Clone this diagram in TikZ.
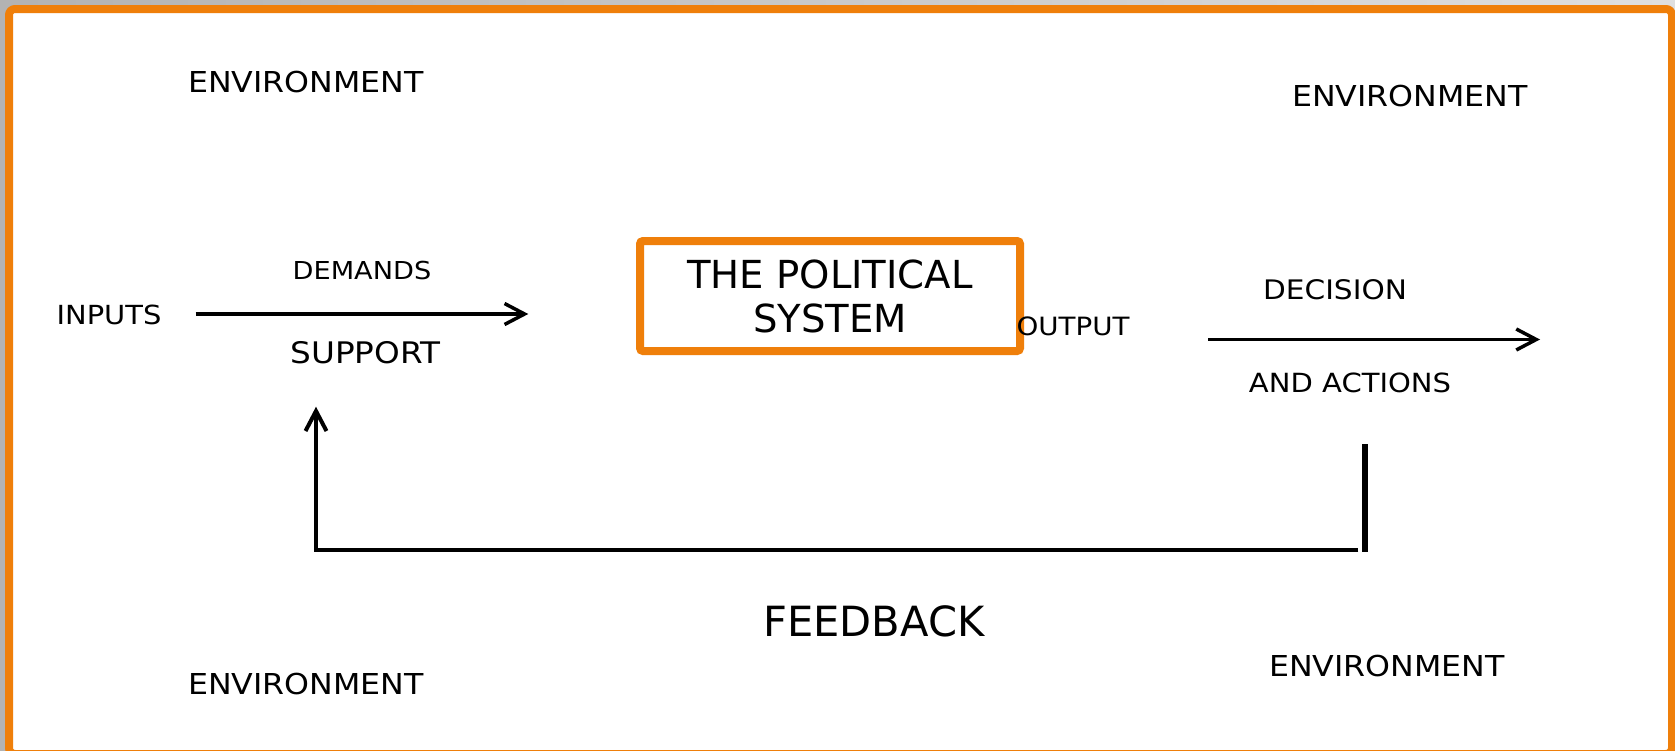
\documentclass[tikz,border=0pt]{standalone}
\usepackage{fontspec}
\usetikzlibrary{arrows.meta}
\newfontfamily\wideface[FakeStretch=1.1]{DejaVu Sans}
\newfontfamily\plainface{DejaVu Sans}
\definecolor{frameorange}{RGB}{239,127,10}

\begin{document}
\begin{tikzpicture}[x=1pt,y=-1pt,
  lbl/.style={anchor=base, inner sep=0pt, text=black},
  envlabel/.style={lbl, font=\wideface\fontsize{28.8pt}{34pt}\selectfont},
  smalllabel/.style={lbl, font=\wideface\fontsize{#1pt}{30pt}\selectfont},
  barb/.style={-{Straight Barb[length=20pt,width=21pt,line width=#1]}},
  flow/.style={line width=3.5pt, barb=3.5pt},
  systembox/.style={draw=frameorange, line width=8pt, rounded corners=3pt,
    minimum width=380pt, minimum height=110pt, inner sep=0pt, align=center,
    font=\plainface\fontsize{38.6pt}{44pt}\selectfont}
]
\useasboundingbox (0,0) rectangle (1675,750);
\clip (0,0) rectangle (1675,750);

% slide backdrop and orange frame
\shade[left color=gray!60, right color=gray!25] (0,0) rectangle (1675,750);
\draw[frameorange, line width=8pt, fill=white, rounded corners=6pt] (9,9) rectangle (1672,754);

% environment labels in the four corners
\node[envlabel] (envTL) at (306,92.3) {ENVIRONMENT};
\node[envlabel] (envTR) at (1410,106) {ENVIRONMENT};
\node[envlabel] (envBL) at (306,694.3) {ENVIRONMENT};
\node[envlabel] (envBR) at (1387,676) {ENVIRONMENT};

% the system itself
\node[systembox] (sys) at (830,296) {THE POLITICAL\\SYSTEM};

% input side
\node[smalllabel=26.3] (inputs) at (109,324) {INPUTS};
\node[smalllabel=24.7] (demands) at (362,279) {DEMANDS};
\node[smalllabel=29.7] (support) at (365.5,363.5) {SUPPORT};
\coordinate (inA) at (195.7,314);
\coordinate (inB) at (528.3,314);
\draw[flow] (inA) -- (inB);

% output side
\node[smalllabel=25.2] (output) at (1073,335) {OUTPUT};
\node[smalllabel=26.9] (decision) at (1335,299.5) {DECISION};
\node[smalllabel=26.4] (actions) at (1350,392) {AND ACTIONS};
\coordinate (outA) at (1208,339.5);
\coordinate (outB) at (1540,339.5);
\draw[flow] (outA) -- (outB);

% feedback loop
\coordinate (barTop) at (1365,444);
\coordinate (barBot) at (1365,551.5);
\draw[line width=6pt] (barTop) -- (barBot);
\coordinate (fbStart) at (1358.3,549.7);
\coordinate (fbCorner) at (316,549.7);
\coordinate (fbEnd) at (316,406.7);
\draw[line width=4pt, barb=4pt] (fbStart) -- (fbCorner) -- (fbEnd);
\node[lbl, font=\plainface\fontsize{41.6pt}{48pt}\selectfont] (feedback) at (874,636) {FEEDBACK};
\end{tikzpicture}
\end{document}
